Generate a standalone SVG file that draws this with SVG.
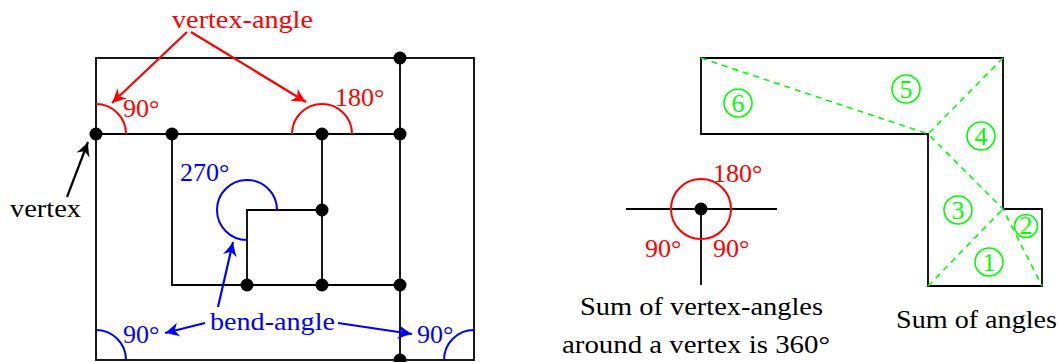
<svg xmlns="http://www.w3.org/2000/svg" width="1060" height="362" viewBox="0 0 1060 362">
<style>
text{font-family:"Liberation Serif","Times New Roman",serif;font-size:26px}
.edge{fill:none;stroke:#000;stroke-width:1.8;stroke-linejoin:miter}
.dot{fill:#000}
.red{fill:#ff0000}
.blue{fill:#0000ff}
.green{fill:#00ff00}
.blk{fill:#000}
.arcR{fill:none;stroke:#ff0000;stroke-width:2}
.arcB{fill:none;stroke:#0000ff;stroke-width:2}
.arrR{fill:none;stroke:#ff0000;stroke-width:2.2}
.arrB{fill:none;stroke:#0000ff;stroke-width:2.2}
.arrK{fill:none;stroke:#000;stroke-width:2.2}
.dash{fill:none;stroke:#00ff00;stroke-width:1.6;stroke-dasharray:6 5}
.circ{fill:none;stroke:#00ff00;stroke-width:1.6}
</style>
<defs>
<marker id="mR" viewBox="-16 -9 18 18" markerWidth="18" markerHeight="18" refX="0" refY="0" orient="auto" markerUnits="userSpaceOnUse"><path d="M0,0 C-4.5,-1.8 -9,-4.2 -14,-7 L-10,0 L-14,7 C-9,4.2 -4.5,1.8 0,0 Z" fill="#ff0000"/></marker>
<marker id="mB" viewBox="-16 -9 18 18" markerWidth="18" markerHeight="18" refX="0" refY="0" orient="auto" markerUnits="userSpaceOnUse"><path d="M0,0 C-4.5,-1.8 -9,-4.2 -14,-7 L-10,0 L-14,7 C-9,4.2 -4.5,1.8 0,0 Z" fill="#0000ff"/></marker>
<marker id="mK" viewBox="-16 -9 18 18" markerWidth="18" markerHeight="18" refX="0" refY="0" orient="auto" markerUnits="userSpaceOnUse"><path d="M0,0 C-4.5,-1.8 -9,-4.2 -14,-7 L-10,0 L-14,7 C-9,4.2 -4.5,1.8 0,0 Z" fill="#000"/></marker>
</defs>

<!-- Left diagram: edges -->
<g id="left-edges">
<rect class="edge" x="96" y="58" width="378" height="302"/>
<path class="edge" d="M96,134 H400 M400,58 V360 M172,134 V285 H400 M322,134 V285 M247,285 V210 H322"/>
</g>

<!-- angle arcs -->
<g id="left-angles">
<path class="arcR" d="M96,104 A30,30 0 0 1 126,134"/>
<path class="arcR" d="M292,134 A30,30 0 0 1 352,134"/>
<path class="arcB" d="M277,210 A30,30 0 1 0 247,240"/>
<path class="arcB" d="M96,330 A30,30 0 0 1 126,360"/>
<path class="arcB" d="M444,360 A30,30 0 0 1 474,330"/>
</g>

<!-- vertices -->
<g id="v1"><circle class="dot" cx="96" cy="134" r="6.5"/></g>
<g id="v2"><circle class="dot" cx="172" cy="134" r="6.5"/></g>
<g id="v3"><circle class="dot" cx="322" cy="134" r="6.5"/></g>
<g id="v4"><circle class="dot" cx="400" cy="134" r="6.5"/></g>
<g id="v5"><circle class="dot" cx="400" cy="58" r="6.5"/></g>
<g id="v6"><circle class="dot" cx="322" cy="210" r="6.5"/></g>
<g id="v7"><circle class="dot" cx="247" cy="285" r="6.5"/></g>
<g id="v8"><circle class="dot" cx="322" cy="285" r="6.5"/></g>
<g id="v9"><circle class="dot" cx="400" cy="285" r="6.5"/></g>
<g id="v10"><circle class="dot" cx="400" cy="360" r="6.5"/></g>

<!-- labels -->
<g id="label-vertex-angle"><text class="red" x="172" y="28" textLength="141" lengthAdjust="spacingAndGlyphs">vertex-angle</text></g>
<g id="label-90a"><text class="red" x="123" y="117">90°</text></g>
<g id="label-180a"><text class="red" x="335" y="106">180°</text></g>
<g id="label-270"><text class="blue" x="180" y="181">270°</text></g>
<g id="label-vertex"><text class="blk" x="10" y="217" textLength="71" lengthAdjust="spacingAndGlyphs">vertex</text></g>
<g id="label-bend-angle"><text class="blue" x="210" y="330" textLength="125" lengthAdjust="spacingAndGlyphs">bend-angle</text></g>
<g id="label-90b"><text class="blue" x="123" y="343">90°</text></g>
<g id="label-90c"><text class="blue" x="417" y="343">90°</text></g>

<!-- connectors -->
<g id="connectors">
<line class="arrR" x1="187" y1="32" x2="112" y2="103" marker-end="url(#mR)"/>
<line class="arrR" x1="191" y1="32" x2="306" y2="102" marker-end="url(#mR)"/>
<line class="arrK" x1="67" y1="197" x2="88" y2="142" marker-end="url(#mK)"/>
<line class="arrB" x1="218" y1="307" x2="233" y2="242" marker-end="url(#mB)"/>
<line class="arrB" x1="205" y1="323" x2="165" y2="333" marker-end="url(#mB)"/>
<line class="arrB" x1="338" y1="323" x2="412" y2="334" marker-end="url(#mB)"/>
</g>

<!-- Middle diagram -->
<g id="middle">
<path class="edge" d="M626,209 H777 M701,209 V285"/>
<circle class="arcR" cx="701" cy="209" r="30"/>
<circle class="dot" cx="701" cy="209" r="6.5"/>
<text class="red" x="713" y="182">180°</text>
<text class="red" x="645" y="257">90°</text>
<text class="red" x="713" y="257">90°</text>
<text class="blk" x="580" y="315" textLength="243" lengthAdjust="spacingAndGlyphs">Sum of vertex-angles</text>
<text class="blk" x="562" y="353" textLength="268" lengthAdjust="spacingAndGlyphs">around a vertex is 360°</text>
</g>

<!-- Right diagram -->
<g id="right">
<path class="edge" d="M701,58 H1003 V209 H1042 V286 H928 V134 H701 Z"/>
<path class="dash" d="M701,58 L928,134 M1003,58 L928,134 L1003,209 L1042,286 M928,286 L1003,209"/>
<g id="n6"><circle class="circ" cx="738" cy="103" r="14"/><text class="green" x="738" y="111.5" text-anchor="middle" font-size="25">6</text></g>
<g id="n5"><circle class="circ" cx="906" cy="89" r="14"/><text class="green" x="906" y="97.5" text-anchor="middle" font-size="25">5</text></g>
<g id="n4"><circle class="circ" cx="981" cy="136" r="14"/><text class="green" x="981" y="144.5" text-anchor="middle" font-size="25">4</text></g>
<g id="n3"><circle class="circ" cx="958" cy="210" r="14"/><text class="green" x="958" y="218.5" text-anchor="middle" font-size="25">3</text></g>
<g id="n2"><circle class="circ" cx="1026" cy="226" r="11.5"/><text class="green" x="1026" y="234" text-anchor="middle" font-size="23">2</text></g>
<g id="n1"><circle class="circ" cx="989" cy="262" r="14"/><text class="green" x="989" y="270.5" text-anchor="middle" font-size="25">1</text></g>
<text class="blk" x="896" y="328" textLength="161" lengthAdjust="spacingAndGlyphs">Sum of angles</text>
</g>
</svg>
